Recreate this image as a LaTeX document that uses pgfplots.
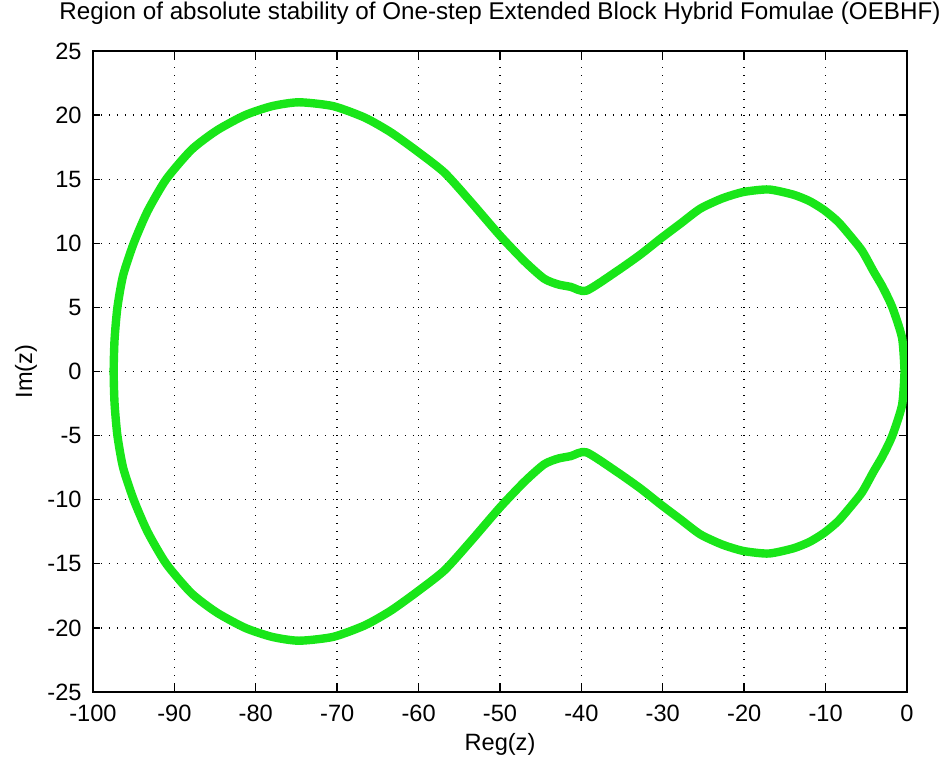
\documentclass[border=0pt]{standalone}
\usepackage{pgfplots}
\pgfplotsset{compat=1.18}
\usepackage{fontspec}
\setmainfont{Liberation Sans}

\definecolor{curvegreen}{RGB}{25,230,25}

\begin{document}
\begin{tikzpicture}
\begin{axis}[
at={(0pt,0pt)}, anchor=south west,
width=407pt, height=320.5pt, scale only axis,
xmin=-100, xmax=0, ymin=-25, ymax=25,
xtick={-100,-90,...,0}, ytick={-25,-20,...,25},
xticklabels={-100,-90,-80,-70,-60,-50,-40,-30,-20,-10,0},
yticklabels={-25,-20,-15,-10,-5,0,5,10,15,20,25},
tick align=inside, tick pos=both, major tick length=3.75pt,
grid=major,
major grid style={black, line width=0.7pt, dash pattern=on 0.7pt off 3.3pt},
axis line style={line width=0.7pt},
every tick/.style={black, line width=0.7pt},
font=\fontsize{11.8}{13}\selectfont,
xticklabel style={anchor=base, yshift=-15pt, inner sep=0pt},
yticklabel style={anchor=east, xshift=-5.5pt, inner sep=0pt},
title={Region of absolute stability of One-step Extended Block Hybrid Fomulae (OEBHF)},
title style={at={(axis description cs:0.5,1.0312)}, anchor=base, inner sep=0pt, font=\fontsize{12.1}{13}\selectfont},
xlabel={Reg(z)},
xlabel style={at={(axis description cs:0.5,-0.0905)}, anchor=base, inner sep=0pt},
ylabel={Im(z)},
ylabel style={at={(axis description cs:-0.0749,0.5)}, anchor=base, inner sep=0pt},
]
% boundary locus, upper half then lower half
\addplot [curvegreen, line width=4.2pt, line join=round, smooth, tension=0.4]
table {%
x y
-0.3 0
-0.6 2.6
-1.8 5
-3.0 6.6
-4.1 7.8
-5.5 9.4
-7.0 10.6
-8.5 11.7
-10.2 12.6
-12.0 13.3
-14.0 13.8
-17.0 14.2
-20.1 14.0
-22.7 13.5
-25.4 12.7
-27.9 11.5
-30.2 10.4
-32.8 9.1
-35.7 7.8
-39.4 6.3
-41.3 6.6
-42.9 6.8
-44.6 7.25
-47.0 8.6
-50.0 10.6
-53.6 13.25
-56.8 15.5
-60.0 17.1
-63.4 18.65
-66.6 19.8
-70.5 20.7
-74.7 21.0
-78.0 20.7
-81.3 20.0
-84.8 18.8
-87.9 17.3
-91.0 15.0
-93.3 12.5
-95.0 10.0
-96.3 7.5
-97.0 5.0
-97.35 2.5
-97.46 0
-97.35 -2.5
-97.0 -5.0
-96.3 -7.5
-95.0 -10.0
-93.3 -12.5
-91.0 -15.0
-87.9 -17.3
-84.8 -18.8
-81.3 -20.0
-78.0 -20.7
-74.7 -21.0
-70.5 -20.7
-66.6 -19.8
-63.4 -18.65
-60.0 -17.1
-56.8 -15.5
-53.6 -13.25
-50.0 -10.6
-47.0 -8.6
-44.6 -7.25
-42.9 -6.8
-41.3 -6.6
-39.4 -6.3
-35.7 -7.8
-32.8 -9.1
-30.2 -10.4
-27.9 -11.5
-25.4 -12.7
-22.7 -13.5
-20.1 -14.0
-17.0 -14.2
-14.0 -13.8
-12.0 -13.3
-10.2 -12.6
-8.5 -11.7
-7.0 -10.6
-5.5 -9.4
-4.1 -7.8
-3.0 -6.6
-1.8 -5
-0.6 -2.6
-0.3 0
};
\end{axis}
\pgfresetboundingbox
\useasboundingbox (-46.5pt,-34.5pt) rectangle (425.5pt,346pt);
\end{tikzpicture}
\end{document}
